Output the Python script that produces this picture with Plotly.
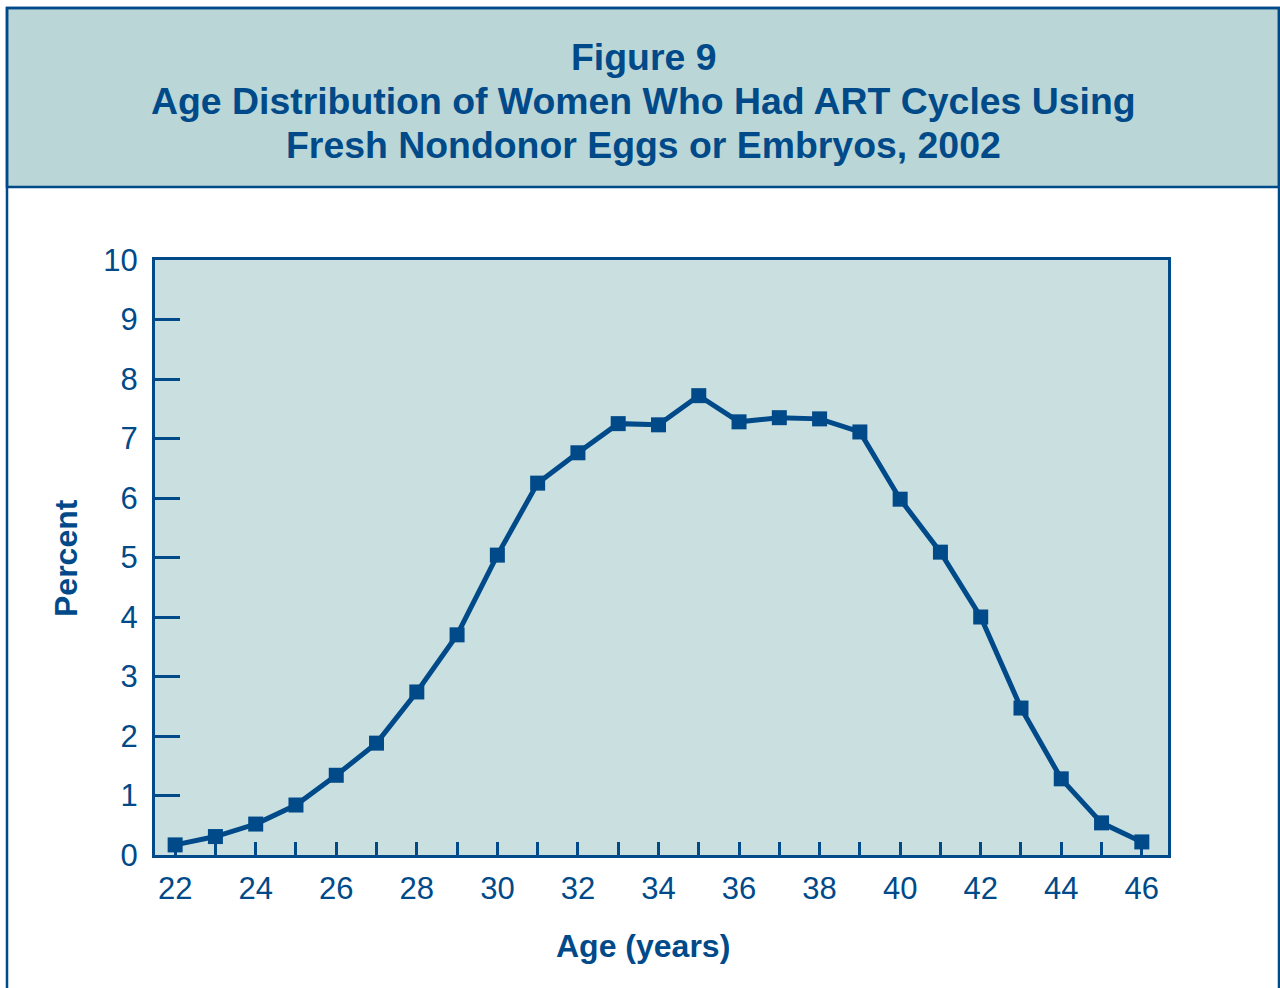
import plotly.graph_objects as go

ages = list(range(22, 47))
percent = [0.17, 0.31, 0.52, 0.84, 1.34, 1.88, 2.74, 3.70, 5.04, 6.25, 6.76, 7.25,
           7.23, 7.72, 7.28, 7.35, 7.33, 7.11, 5.98, 5.09, 4.00, 2.47, 1.28, 0.54, 0.22]
x_tick_vals = list(range(22, 47))
x_tick_text = [str(a) if a % 2 == 0 else "" for a in x_tick_vals]
y_tick_vals = list(range(0, 11))

title_lines = ["Figure 9",
               "Age Distribution of Women Who Had ART Cycles Using",
               "Fresh Nondonor Eggs or Embryos, 2002"]
title_line_y = [57, 101, 145]

BLUE = "#004a89"
HEADER_BG = "#bad6d6"
PLOT_BG = "#cadfdf"
FONT = "Liberation Sans, Arial, Helvetica, sans-serif"

W, H = 1280, 988
L, R, T, B = 155, 1168, 260, 855

def px(x):
    return (x - L) / (R - L)

def py(y):
    return (B - y) / (B - T)

fig = go.Figure()
fig.add_trace(go.Scatter(
    x=ages, y=percent, mode="lines+markers",
    line=dict(color=BLUE, width=5),
    marker=dict(symbol="square", size=15, color=BLUE),
    cliponaxis=False, hoverinfo="x+y",
))

fig.update_layout(
    width=W, height=H,
    margin=dict(l=L, r=W - R, t=T, b=H - B, pad=0),
    paper_bgcolor="white", plot_bgcolor=PLOT_BG,
    showlegend=False,
    font=dict(family=FONT, color=BLUE),
    xaxis=dict(range=[21.5, 46.65], tickvals=x_tick_vals, ticktext=x_tick_text,
               ticks="inside", ticklen=13, tickwidth=3, tickcolor=BLUE,
               showline=True, linewidth=3, linecolor=BLUE, mirror=True,
               showgrid=False, zeroline=False,
               tickfont=dict(size=31, color=BLUE), ticklabelstandoff=4),
    yaxis=dict(range=[0, 10], tickvals=y_tick_vals,
               ticks="inside", ticklen=25, tickwidth=3, tickcolor=BLUE,
               showline=True, linewidth=3, linecolor=BLUE, mirror=True,
               showgrid=False, zeroline=False,
               tickfont=dict(size=31, color=BLUE), ticklabelstandoff=8),
)

# Outer frame and header band
fig.add_shape(type="rect", xref="paper", yref="paper",
              x0=px(7), x1=px(1279), y0=py(187), y1=py(8),
              fillcolor=HEADER_BG, line=dict(color=BLUE, width=2.5), layer="below")
fig.add_shape(type="rect", xref="paper", yref="paper",
              x0=px(7), x1=px(1279), y0=py(1010), y1=py(8),
              fillcolor="rgba(0,0,0,0)", line=dict(color=BLUE, width=2.5), layer="above")

for txt, yy in zip(title_lines, title_line_y):
    fig.add_annotation(xref="paper", yref="paper", x=px(643), y=py(yy),
                       text="<b>" + txt + "</b>",
                       showarrow=False, xanchor="center", yanchor="middle",
                       font=dict(size=37.4, color=BLUE, family=FONT))
fig.add_annotation(xref="paper", yref="paper", x=px(66), y=py(558),
                   text="<b>Percent</b>", textangle=-90, showarrow=False,
                   xanchor="center", yanchor="middle",
                   font=dict(size=32, color=BLUE, family=FONT))
fig.add_annotation(xref="paper", yref="paper", x=px(643), y=py(946),
                   text="<b>Age (years)</b>", showarrow=False,
                   xanchor="center", yanchor="middle",
                   font=dict(size=32, color=BLUE, family=FONT))

fig.write_html("out.html", config={"displayModeBar": False},
               post_script="document.body.style.margin='0';")
